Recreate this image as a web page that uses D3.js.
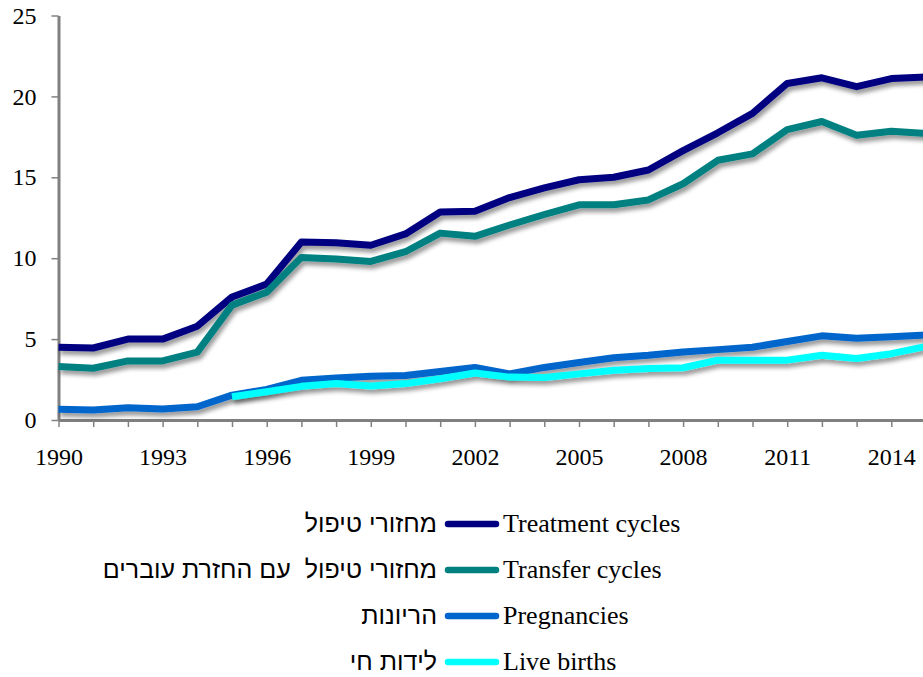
<!DOCTYPE html>
<html lang="en">
<head>
  <meta charset="UTF-8">
  <title>IVF cycles</title>
  <script src="https://d3js.org/d3.v7.min.js"></script>
  <style>
    body { margin: 0; background: #fff; }
    .axis path, .axis line { stroke: #808080; }
  </style>
</head>
<body>
<div id="chart"></div>
<script>
  // Years on the x axis
  const years = d3.range(1990, 2016);

  // Series values
  const treatment = [4.5, 4.45, 5.0, 5.0, 5.8, 7.6, 8.4, 11.0, 10.95, 10.8, 11.5, 12.85, 12.9, 13.75, 14.35, 14.85, 15.0, 15.45, 16.65, 17.75, 18.95, 20.8, 21.15, 20.6, 21.1, 21.2];
  const transfer = [3.3, 3.2, 3.65, 3.65, 4.2, 7.1, 7.9, 10.05, 9.95, 9.8, 10.4, 11.55, 11.35, 12.05, 12.7, 13.3, 13.3, 13.6, 14.6, 16.05, 16.45, 17.95, 18.45, 17.6, 17.85, 17.7];
  const pregnancies = [0.66, 0.62, 0.76, 0.68, 0.82, 1.54, 1.89, 2.45, 2.6, 2.7, 2.75, 3.0, 3.25, 2.85, 3.25, 3.55, 3.85, 4.0, 4.2, 4.35, 4.5, 4.85, 5.2, 5.05, 5.15, 5.25];
  const liveBirths = [null, null, null, null, null, 1.44, 1.75, 2.08, 2.25, 2.1, 2.25, 2.55, 2.9, 2.65, 2.63, 2.85, 3.08, 3.19, 3.23, 3.7, 3.7, 3.7, 4.0, 3.8, 4.1, 4.55];

  const seriesNames = ["Treatment cycles", "Transfer cycles", "Pregnancies", "Live births"];
  const seriesHebrew = ["מחזורי טיפול", "מחזורי טיפול  עם החזרת עוברים", "הריונות", "לידות חי"];
  const seriesColors = ["#000080", "#008080", "#0066CC", "#00FFFF"];
  const seriesValues = [treatment, transfer, pregnancies, liveBirths];

  const yTicks = [0, 5, 10, 15, 20, 25];
  const xLabelYears = [1990, 1993, 1996, 1999, 2002, 2005, 2008, 2011, 2014];

  const serif = "'Liberation Serif', 'Times New Roman', Times, serif";
  const sans = "'Liberation Sans', Arial, 'DejaVu Sans', sans-serif";

  const W = 923, H = 677;
  const svg = d3.select("#chart").append("svg")
    .attr("width", W)
    .attr("height", H);

  // drop shadow for the data lines
  const defs = svg.append("defs");
  const f = defs.append("filter").attr("id", "shadow")
    .attr("x", "-10%").attr("y", "-10%").attr("width", "130%").attr("height", "140%");
  f.append("feDropShadow")
    .attr("dx", 2).attr("dy", 4).attr("stdDeviation", 2)
    .attr("flood-color", "#000").attr("flood-opacity", 0.4);
  const fs = defs.append("filter").attr("id", "frameShadow")
    .attr("x", "-5%").attr("y", "-50%").attr("width", "110%").attr("height", "200%");
  fs.append("feDropShadow")
    .attr("dx", 0).attr("dy", -2).attr("stdDeviation", 1.5)
    .attr("flood-color", "#000").attr("flood-opacity", 0.25);

  const x = d3.scaleLinear().domain([1990, 2015]).range([58.5, 926]);
  const y = d3.scaleLinear().domain([0, 25]).range([420, 15.5]);

  // top border of the plot frame
  svg.append("line")
    .attr("x1", x(1990)).attr("x2", W + 5)
    .attr("y1", y(25)).attr("y2", y(25))
    .attr("stroke", "#808080").attr("stroke-width", 3)
    .attr("filter", "url(#frameShadow)");

  // y axis
  const yAxis = svg.append("g")
    .attr("class", "axis")
    .attr("transform", `translate(${x(1990)},0)`)
    .call(d3.axisLeft(y).tickValues(yTicks).tickSize(7).tickSizeOuter(0).tickPadding(15));
  yAxis.attr("font-family", serif).attr("font-size", 24);
  yAxis.selectAll(".tick text").attr("fill", "#000");
  yAxis.select(".domain").attr("stroke-width", 3);
  yAxis.selectAll(".tick line").attr("stroke-width", 1.5);

  // x axis
  const xAxis = svg.append("g")
    .attr("class", "axis")
    .attr("transform", `translate(0,${y(0)})`)
    .call(d3.axisBottom(x).tickValues(years).tickSize(7).tickSizeOuter(0).tickPadding(15)
      .tickFormat(d => xLabelYears.includes(d) ? String(d) : ""));
  xAxis.attr("font-family", serif).attr("font-size", 24);
  xAxis.select(".domain").attr("stroke-width", 3);
  xAxis.selectAll(".tick line").attr("stroke-width", 1.5);
  xAxis.selectAll(".tick text").attr("fill", "#000").attr("dy", "0.95em");

  // data lines
  const line = d3.line()
    .defined(d => d.v !== null)
    .x(d => x(d.year))
    .y(d => y(d.v));

  seriesValues.forEach((vals, i) => {
    svg.append("path")
      .datum(years.map((yr, j) => ({ year: yr, v: vals[j] })))
      .attr("fill", "none")
      .attr("stroke", seriesColors[i])
      .attr("stroke-width", 7)
      .attr("stroke-linejoin", "round")
      .attr("filter", "url(#shadow)")
      .attr("d", line);
  });

  // legend
  const legendRows = [524, 570, 616, 662];
  seriesNames.forEach((name, i) => {
    const g = svg.append("g").attr("transform", `translate(0,${legendRows[i]})`);
    g.append("line")
      .attr("x1", 448).attr("x2", 496)
      .attr("stroke", seriesColors[i])
      .attr("stroke-width", 6.5)
      .attr("stroke-linecap", "round");
    g.append("text")
      .attr("x", 503).attr("y", 8)
      .attr("font-family", serif)
      .attr("font-size", 26)
      .text(name);
    g.append("text")
      .attr("x", 437).attr("y", 8)
      .attr("text-anchor", "end")
      .attr("font-family", sans)
      .attr("font-size", 25)
      .style("white-space", "pre")
      .text(seriesHebrew[i]);
  });
</script>
</body>
</html>
